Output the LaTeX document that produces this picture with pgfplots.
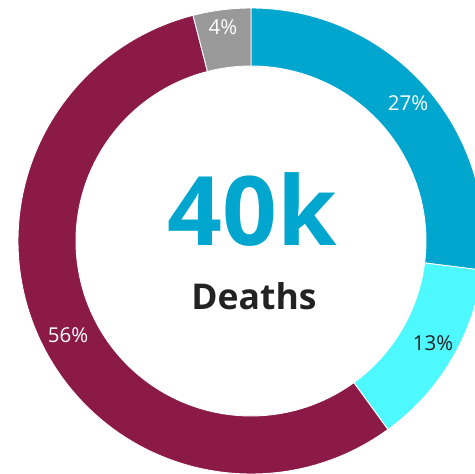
\documentclass[border=0pt]{standalone}
\usepackage{pgfplots}
\pgfplotsset{compat=1.18}
\usepackage{pgfplotstable}
\usepackage{fontspec}
\setmainfont{Open Sans}
\definecolor{c1}{HTML}{00A6CE}
\definecolor{c2}{HTML}{4DF8FF}
\definecolor{c3}{HTML}{8B1A47}
\definecolor{c4}{HTML}{999999}
\definecolor{dark}{HTML}{222222}
\pgfplotstableread{
value col tcol lx ly
27 c1 white 408 371
13 c2 dark 433 131
56 c3 white 68 139
4 c4 white 223 447
}\piedata
\begin{document}
\begin{tikzpicture}
\path[use as bounding box] (0,0) rectangle (475pt,474pt);
\begin{axis}[anchor=origin, at={(0,0)}, disabledatascaling, x=1pt, y=1pt,
  xmin=0, xmax=475, ymin=0, ymax=474, scale only axis, hide axis, clip=true]
\gdef\startang{90}
\foreach \i in {0,...,3}{
  \pgfplotstablegetelem{\i}{value}\of\piedata \let\v\pgfplotsretval
  \pgfplotstablegetelem{\i}{col}\of\piedata \let\c\pgfplotsretval
  \pgfplotstablegetelem{\i}{tcol}\of\piedata \let\tc\pgfplotsretval
  \pgfplotstablegetelem{\i}{lx}\of\piedata \let\lx\pgfplotsretval
  \pgfplotstablegetelem{\i}{ly}\of\piedata \let\ly\pgfplotsretval
  \pgfmathsetmacro\endang{\startang-\v*3.6}
  \edef\cmd{\noexpand\fill[\c, draw=white, line width=0.9pt]
    ([shift={(\startang:233pt)}]axis cs:251,233)
    arc[start angle=\startang, end angle=\endang, radius=233pt]
    -- ([shift={(\endang:175pt)}]axis cs:251,233)
    arc[start angle=\endang, end angle=\startang, radius=175pt] -- cycle;
    \noexpand\node[text=\tc, font=\noexpand\fontsize{20.5}{24}\noexpand\selectfont]
    at (axis cs:\lx,\ly) {\v\noexpand\%};}
  \cmd
  \xdef\startang{\endang}
}
\node[anchor=base, text=c1, font=\bfseries\fontsize{96}{100}\selectfont] at (axis cs:252,228) {40k};
\node[anchor=base, text=dark, font=\bfseries\fontsize{35.5}{38}\selectfont] at (axis cs:254,164) {Deaths};
\end{axis}
\end{tikzpicture}
\end{document}
